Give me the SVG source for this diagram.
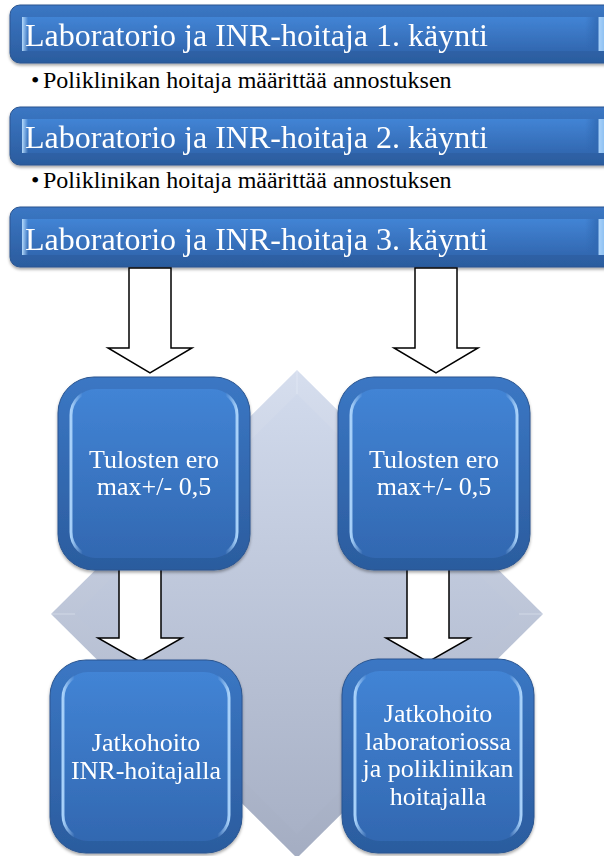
<svg xmlns="http://www.w3.org/2000/svg" width="604" height="856" viewBox="0 0 604 856">
  <defs>
    <style>
      .bar-title { font-family: "Liberation Serif", "DejaVu Serif", "Times New Roman", serif; font-size: 32px; fill: #ffffff; }
      .bullet { font-family: "Liberation Serif", "DejaVu Serif", "Times New Roman", serif; font-size: 24px; fill: #000000; }
      .box-label { font-family: "Liberation Serif", "DejaVu Serif", "Times New Roman", serif; font-size: 26px; fill: #ffffff; text-anchor: middle; }
      .block-arrow { fill: #ffffff; stroke: #000000; stroke-width: 1.5; stroke-linejoin: miter; }
      .rim { fill: url(#rimGrad); stroke: #2a5590; stroke-width: 1; }
      .face { fill: url(#faceGrad); }
      .edge-glow { fill: none; stroke: url(#glowGrad); stroke-width: 3; }
    </style>
    <linearGradient id="rimGrad" x1="0" y1="0" x2="0" y2="1">
      <stop offset="0" stop-color="#3b77c4"/>
      <stop offset="1" stop-color="#2b5c9e"/>
    </linearGradient>
    <linearGradient id="faceGrad" x1="0" y1="0" x2="0" y2="1">
      <stop offset="0" stop-color="#4284d5"/>
      <stop offset="1" stop-color="#3268b1"/>
    </linearGradient>
    <linearGradient id="glowGrad" x1="0" y1="0" x2="1" y2="0">
      <stop offset="0" stop-color="#a9d2fa" stop-opacity="1"/>
      <stop offset="0.07" stop-color="#a9d2fa" stop-opacity="0"/>
      <stop offset="0.93" stop-color="#a9d2fa" stop-opacity="0"/>
      <stop offset="1" stop-color="#a9d2fa" stop-opacity="1"/>
    </linearGradient>
    <linearGradient id="barEdgeL" x1="0" y1="0" x2="1" y2="0">
      <stop offset="0" stop-color="#b4dafc" stop-opacity="1"/>
      <stop offset="1" stop-color="#b4dafc" stop-opacity="0"/>
    </linearGradient>
    <linearGradient id="barEdgeR" x1="0" y1="0" x2="1" y2="0">
      <stop offset="0" stop-color="#2f67b0" stop-opacity="0"/>
      <stop offset="0.7" stop-color="#2f67b0" stop-opacity="0.8"/>
      <stop offset="0.72" stop-color="#a9d2fa"/>
      <stop offset="1" stop-color="#8fc1f2"/>
    </linearGradient>
    <linearGradient id="diamondGrad" x1="0" y1="0" x2="0" y2="1">
      <stop offset="0" stop-color="#d6deee"/>
      <stop offset="1" stop-color="#a4adc2"/>
    </linearGradient>
    <linearGradient id="diamondFace" x1="0" y1="0" x2="0" y2="1">
      <stop offset="0" stop-color="#d0d9eb"/>
      <stop offset="1" stop-color="#a8b1c6"/>
    </linearGradient>
    <filter id="shadow" x="-10%" y="-10%" width="120%" height="130%">
      <feDropShadow dx="0" dy="2" stdDeviation="1.8" flood-color="#000000" flood-opacity="0.35"/>
    </filter>
  </defs>

  <!-- visit bars -->
  <g id="visit1" filter="url(#shadow)">
    <rect class="rim" x="10" y="5" width="620" height="58" rx="10"/>
    <rect class="face" x="23" y="17" width="600" height="34" rx="3"/>
    <rect x="22" y="17" width="6" height="34" fill="url(#barEdgeL)"/>
    <rect x="585" y="17" width="19" height="34" fill="url(#barEdgeR)"/>
    <text class="bar-title" x="25" y="46">Laboratorio ja INR-hoitaja 1. käynti</text>
  </g>
  <g id="note1">
    <text class="bullet" x="31" y="88">•</text>
    <text class="bullet" x="43" y="88">Poliklinikan hoitaja määrittää annostuksen</text>
  </g>

  <g id="visit2" filter="url(#shadow)">
    <rect class="rim" x="10" y="107" width="620" height="58" rx="10"/>
    <rect class="face" x="23" y="119" width="600" height="34" rx="3"/>
    <rect x="22" y="119" width="6" height="34" fill="url(#barEdgeL)"/>
    <rect x="585" y="119" width="19" height="34" fill="url(#barEdgeR)"/>
    <text class="bar-title" x="25" y="148">Laboratorio ja INR-hoitaja 2. käynti</text>
  </g>
  <g id="note2">
    <text class="bullet" x="31" y="188">•</text>
    <text class="bullet" x="43" y="188">Poliklinikan hoitaja määrittää annostuksen</text>
  </g>

  <g id="visit3" filter="url(#shadow)">
    <rect class="rim" x="10" y="207" width="620" height="60" rx="10"/>
    <rect class="face" x="23" y="219" width="600" height="36" rx="3"/>
    <rect x="22" y="219" width="6" height="36" fill="url(#barEdgeL)"/>
    <rect x="585" y="219" width="19" height="36" fill="url(#barEdgeR)"/>
    <text class="bar-title" x="25" y="250">Laboratorio ja INR-hoitaja 3. käynti</text>
  </g>

  <!-- background diamond -->
  <g id="backdrop">
    <polygon points="297,370 543,614 297,858 51,614" fill="url(#diamondGrad)"/>
    <polygon points="297,394 519,614 297,834 75,614" fill="url(#diamondFace)"/>
    <g stroke="#eef2fa" stroke-opacity="0.45" stroke-width="1">
      <line x1="297" y1="370" x2="297" y2="394"/>
      <line x1="51" y1="614" x2="75" y2="614"/>
      <line x1="543" y1="614" x2="519" y2="614"/>
    </g>
  </g>

  <!-- connectors -->
  <g id="connectors">
    <path class="block-arrow" d="M129,268 H171 V348 H192 L150,373 L108,348 H129 Z"/>
    <path class="block-arrow" d="M415,268 H457 V348 H478 L436,373 L394,348 H415 Z"/>
    <path class="block-arrow" d="M119,569 H161 V638 H182 L140,662 L98,638 H119 Z"/>
    <path class="block-arrow" d="M407,569 H449 V638 H470 L428,662 L386,638 H407 Z"/>
  </g>

  <!-- result boxes -->
  <g id="check-left" filter="url(#shadow)">
    <rect class="rim" x="58" y="377" width="192" height="193" rx="36"/>
    <rect class="face" x="70" y="389" width="168" height="169" rx="26"/>
    <rect class="edge-glow" x="71" y="390" width="166" height="167" rx="25"/>
    <text class="box-label" x="154" y="468">Tulosten ero</text>
    <text class="box-label" x="154" y="495">max+/- 0,5</text>
  </g>
  <g id="check-right" filter="url(#shadow)">
    <rect class="rim" x="338" y="377" width="192" height="193" rx="36"/>
    <rect class="face" x="350" y="389" width="168" height="169" rx="26"/>
    <rect class="edge-glow" x="351" y="390" width="166" height="167" rx="25"/>
    <text class="box-label" x="434" y="468">Tulosten ero</text>
    <text class="box-label" x="434" y="495">max+/- 0,5</text>
  </g>
  <g id="followup-inr" filter="url(#shadow)">
    <rect class="rim" x="50" y="660" width="192" height="193" rx="36"/>
    <rect class="face" x="62" y="672" width="168" height="169" rx="26"/>
    <rect class="edge-glow" x="63" y="673" width="166" height="167" rx="25"/>
    <text class="box-label" x="146" y="751">Jatkohoito</text>
    <text class="box-label" x="146" y="779">INR-hoitajalla</text>
  </g>
  <g id="followup-lab" filter="url(#shadow)">
    <rect class="rim" x="342" y="659" width="192" height="194" rx="36"/>
    <rect class="face" x="354" y="671" width="168" height="170" rx="26"/>
    <rect class="edge-glow" x="355" y="672" width="166" height="168" rx="25"/>
    <text class="box-label" x="438" y="722">Jatkohoito</text>
    <text class="box-label" x="438" y="750">laboratoriossa</text>
    <text class="box-label" x="438" y="777">ja poliklinikan</text>
    <text class="box-label" x="438" y="805">hoitajalla</text>
  </g>
</svg>
